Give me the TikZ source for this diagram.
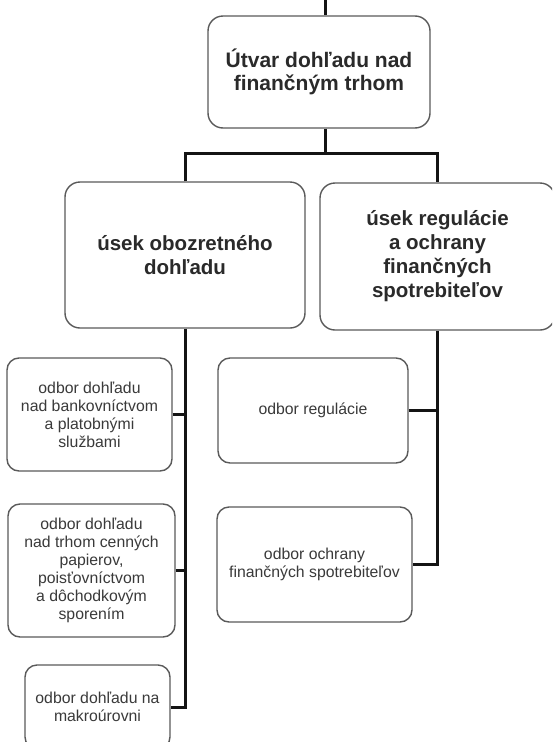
\documentclass[tikz,border=0pt]{standalone}
\usepackage{fontspec}
\setmainfont{Liberation Sans}
\definecolor{boxline}{HTML}{5A5A5A}
\definecolor{conncol}{HTML}{141414}
\definecolor{bigtext}{HTML}{2A2A2A}
\definecolor{smalltext}{HTML}{3A3A3A}
\begin{document}
\begin{tikzpicture}[x=1pt,y=-1pt,
  boxbase/.style={draw=boxline, line width=1.4pt, rectangle, fill=white, inner sep=0pt, align=center},
  bigbox/.style={boxbase, rounded corners=15pt, font=\fontsize{20.5}{24}\selectfont\bfseries, text=bigtext},
  smallbox/.style={boxbase, rounded corners=12pt, font=\fontsize{15.8}{18}\selectfont, text=smalltext},
  conn/.style={draw=conncol, line width=3pt}]
\useasboundingbox (0,0) rectangle (552,742);
\clip (0,0) rectangle (552,742);
\fill[white] (0,0) rectangle (552,742);

% nodes
\node[bigbox, minimum width=222pt, minimum height=112pt, font=\fontsize{21}{23}\selectfont\bfseries] (top) at (319,72) {Útvar dohľadu nad\\finančným trhom};
\node[bigbox, minimum width=240pt, minimum height=146pt] (L) at (185,255) {úsek obozretného\\dohľadu};
\node[bigbox, minimum width=235pt, minimum height=147pt] (R) at (437.5,256.5) {úsek regulácie\\a ochrany\\finančných\\spotrebiteľov};

\node[smallbox, minimum width=165pt, minimum height=113pt] (L1) at (89.5,414.5) {odbor dohľadu\\nad bankovníctvom\\a platobnými\\službami};
\node[smallbox, minimum width=167pt, minimum height=133pt] (L2) at (91.5,570.5) {odbor dohľadu\\nad trhom cenných\\papierov,\\poisťovníctvom\\a dôchodkovým\\sporením};
\node[smallbox, minimum width=145pt, minimum height=84pt] (L3) at (97.5,707) {odbor dohľadu na\\makroúrovni};

\node[smallbox, minimum width=190pt, minimum height=105pt] (R1) at (313,410.5) {odbor regulácie};
\node[smallbox, minimum width=195pt, minimum height=115pt] (R2) at (314.5,564.5) {odbor ochrany\\finančných spotrebiteľov};

% coordinates
\coordinate (topin) at (325,0);
\coordinate (busM) at (325,153);
\coordinate (busL) at (185,153);
\coordinate (busR) at (437,153);

% connectors
\draw[conn] (topin) -- (top.north -| topin);
\draw[conn] (top.south -| busM) -- (busM);
\draw[conn] (L.north -| busL) -- (busL) -- (busR) -- (R.north -| busR);

\draw[conn] (L.south -| busL) -- (busL |- L3.east) -- (L3.east);
\draw[conn] (L1.east) -- (L1.east -| busL);
\draw[conn] (L2.east) -- (L2.east -| busL);

\draw[conn] (R.south -| busR) -- (busR |- R2.east) -- (R2.east);
\draw[conn] (R1.east) -- (R1.east -| busR);
\end{tikzpicture}
\end{document}
